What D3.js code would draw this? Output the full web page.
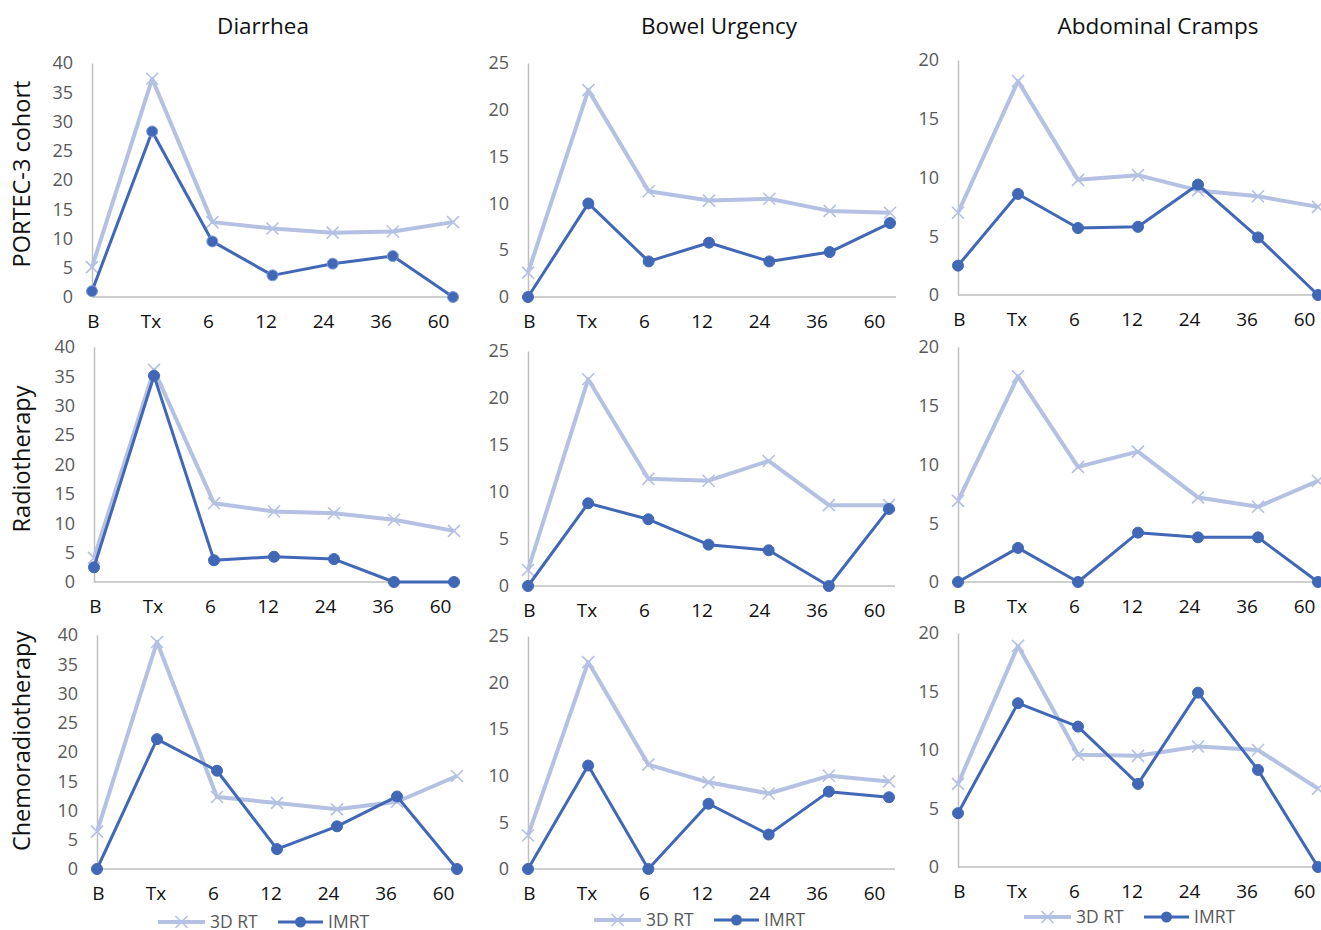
<!DOCTYPE html>
<html>
<head>
<meta charset="utf-8">
<script src="https://cdn.jsdelivr.net/npm/d3@7"></script>
<style>
  html, body { margin: 0; padding: 0; background: #fff; }
  svg { display: block; font-family: "Open Sans", "Noto Sans", sans-serif; }
</style>
</head>
<body>
<svg id="chart" width="1321" height="930"></svg>
<script>
"use strict";

// ── data ──────────────────────────────────────────────────────────────────────
const timepoints = ["B", "Tx", "6", "12", "24", "36", "60"];
const symptoms   = ["Diarrhea", "Bowel Urgency", "Abdominal Cramps"];
const cohorts    = ["PORTEC-3 cohort", "Radiotherapy", "Chemoradiotherapy"];
const yMaxBySymptom = [40, 25, 20];
const seriesNames = ["3D RT", "IMRT"];

const portecDiarrhea3d   = [5.1, 37.3, 12.8, 11.7, 11.0, 11.2, 12.8];
const portecDiarrheaImrt = [1.0, 28.3, 9.5, 3.7, 5.7, 7.0, 0];
const portecUrgency3d    = [2.6, 22.1, 11.3, 10.3, 10.5, 9.2, 9.0];
const portecUrgencyImrt  = [0, 10.0, 3.8, 5.8, 3.8, 4.8, 7.9];
const portecCramps3d     = [7.0, 18.2, 9.8, 10.2, 8.9, 8.4, 7.5];
const portecCrampsImrt   = [2.5, 8.6, 5.7, 5.8, 9.4, 4.9, 0];

const rtDiarrhea3d   = [4.1, 36.1, 13.4, 12.0, 11.7, 10.6, 8.7];
const rtDiarrheaImrt = [2.5, 35.1, 3.7, 4.3, 3.9, 0, 0];
const rtUrgency3d    = [1.7, 22.0, 11.4, 11.2, 13.3, 8.6, 8.6];
const rtUrgencyImrt  = [0, 8.8, 7.1, 4.4, 3.8, 0, 8.2];
const rtCramps3d     = [6.9, 17.5, 9.8, 11.1, 7.2, 6.4, 8.6];
const rtCrampsImrt   = [0, 2.9, 0, 4.2, 3.8, 3.8, 0];

const crtDiarrhea3d   = [6.4, 38.8, 12.3, 11.3, 10.2, 11.5, 15.9];
const crtDiarrheaImrt = [0, 22.2, 16.8, 3.4, 7.3, 12.4, 0];
const crtUrgency3d    = [3.6, 22.2, 11.2, 9.3, 8.1, 10.0, 9.4];
const crtUrgencyImrt  = [0, 11.1, 0, 7.0, 3.7, 8.3, 7.7];
const crtCramps3d     = [7.1, 18.9, 9.6, 9.5, 10.3, 10.0, 6.7];
const crtCrampsImrt   = [4.6, 14.0, 12.0, 7.1, 14.9, 8.3, 0];

const panelSeries = [
  [[portecDiarrhea3d, portecDiarrheaImrt], [portecUrgency3d, portecUrgencyImrt], [portecCramps3d, portecCrampsImrt]],
  [[rtDiarrhea3d, rtDiarrheaImrt],         [rtUrgency3d, rtUrgencyImrt],         [rtCramps3d, rtCrampsImrt]],
  [[crtDiarrhea3d, crtDiarrheaImrt],       [crtUrgency3d, crtUrgencyImrt],       [crtCramps3d, crtCrampsImrt]],
];

// ── layout (plot rectangles per row/col: axis x, last point x, top y, zero y) ─
const panelBoxes = [
  [{ x0: 92, x1: 453, top: 63, y0: 297 }, { x0: 528, x1: 890, top: 63, y0: 297 }, { x0: 958, x1: 1318, top: 60, y0: 295 }],
  [{ x0: 94, x1: 454, top: 347, y0: 582 }, { x0: 528, x1: 889, top: 351, y0: 586 }, { x0: 958, x1: 1318, top: 347, y0: 582 }],
  [{ x0: 97, x1: 457, top: 635, y0: 869 }, { x0: 528, x1: 889, top: 636, y0: 869 }, { x0: 958, x1: 1318, top: 633, y0: 867 }],
];
const titleX   = [263, 719, 1158];
const rowLabelY = [174, 459, 741];
const legendPos = [{ x: 158, y: 922 }, { x: 594, y: 920 }, { x: 1024, y: 917 }];

const COLOR_3D   = "#b4c1e3";
const COLOR_IMRT = "#4168b6";
const AXIS_COLOR = "#bfbfbf";
const FONT = "\"Open Sans\", \"Noto Sans\", sans-serif";

const svg = d3.select("#chart");

// column titles
svg.selectAll("text.title").data(symptoms).enter().append("text")
  .attr("class", "title")
  .attr("x", (d, i) => titleX[i]).attr("y", 34)
  .attr("text-anchor", "middle")
  .attr("font-size", 22.5).attr("fill", "#111")
  .text(d => d);

// row labels
svg.selectAll("text.rowlab").data(cohorts).enter().append("text")
  .attr("class", "rowlab")
  .attr("transform", (d, i) => `translate(22,${rowLabelY[i]}) rotate(-90)`)
  .attr("text-anchor", "middle").attr("dy", "0.35em")
  .attr("font-size", 23.5).attr("fill", "#111")
  .text(d => d);

function xMarkPath(cx, cy, s) {
  return `M${cx - s},${cy - s}L${cx + s},${cy + s}M${cx - s},${cy + s}L${cx + s},${cy - s}`;
}

// ── panels ────────────────────────────────────────────────────────────────────
panelSeries.forEach((row, r) => {
  row.forEach(([s3d, sImrt], c) => {
    const box = panelBoxes[r][c];
    const yMax = yMaxBySymptom[c];
    const g = svg.append("g");

    const x = d3.scalePoint().domain(timepoints).range([box.x0, box.x1]);
    const xLab = d3.scalePoint().domain(timepoints).range([box.x0 + 1, box.x0 + 346]);
    const y = d3.scaleLinear().domain([0, yMax]).range([box.y0, box.top]);

    // y axis
    g.append("g").attr("transform", `translate(${box.x0},0)`)
      .call(d3.axisLeft(y).tickValues(d3.range(0, yMax + 1, 5)).tickSize(0).tickPadding(19))
      .call(ax => {
        ax.select(".domain").attr("stroke", AXIS_COLOR).attr("stroke-width", 1.5);
        ax.selectAll("text").attr("fill", "#595959").attr("font-size", 18)
          .attr("font-family", FONT);
      });

    // baseline
    g.append("line")
      .attr("x1", box.x0).attr("x2", Math.min(box.x1 + 6, 1321))
      .attr("y1", y(0)).attr("y2", y(0))
      .attr("stroke", AXIS_COLOR).attr("stroke-width", 1.5);

    // x labels
    g.append("g").attr("transform", `translate(0,${box.y0})`)
      .call(d3.axisBottom(xLab).tickSize(0).tickPadding(18))
      .call(ax => {
        ax.select(".domain").remove();
        ax.selectAll("text").attr("fill", "#111").attr("font-size", 19)
          .attr("font-family", FONT);
      });

    const line = d3.line().x((d, i) => x(timepoints[i])).y(d => y(d));

    // 3D RT
    g.append("path").datum(s3d)
      .attr("fill", "none").attr("stroke", COLOR_3D)
      .attr("stroke-width", 4).attr("stroke-linejoin", "round")
      .attr("d", line);
    g.selectAll("path.xm").data(s3d).enter().append("path")
      .attr("class", "xm")
      .attr("d", (d, i) => xMarkPath(x(timepoints[i]), y(d), 6))
      .attr("stroke", COLOR_3D).attr("stroke-width", 1.6).attr("fill", "none");

    // IMRT
    g.append("path").datum(sImrt)
      .attr("fill", "none").attr("stroke", COLOR_IMRT)
      .attr("stroke-width", 3).attr("stroke-linejoin", "round")
      .attr("d", line);
    g.selectAll("circle").data(sImrt).enter().append("circle")
      .attr("cx", (d, i) => x(timepoints[i]))
      .attr("cy", d => y(d))
      .attr("r", 5.5)
      .attr("fill", COLOR_IMRT)
      .attr("stroke", r === 0 && c === 0 ? "#7f9ad8" : COLOR_IMRT)
      .attr("stroke-width", 1);
  });
});

// ── legends ───────────────────────────────────────────────────────────────────
legendPos.forEach(p => {
  const g = svg.append("g").attr("transform", `translate(${p.x},${p.y})`);
  // 3D RT
  g.append("line").attr("x1", 0).attr("x2", 47).attr("y1", 0).attr("y2", 0)
    .attr("stroke", COLOR_3D).attr("stroke-width", 4);
  g.append("path").attr("d", xMarkPath(23.5, 0, 6))
    .attr("stroke", COLOR_3D).attr("stroke-width", 1.6);
  g.append("text").attr("x", 52).attr("y", 0).attr("dy", "0.35em")
    .attr("font-size", 17.5).attr("fill", "#595959").text(seriesNames[0]);
  // IMRT
  g.append("line").attr("x1", 120).attr("x2", 165).attr("y1", 0).attr("y2", 0)
    .attr("stroke", COLOR_IMRT).attr("stroke-width", 3);
  g.append("circle").attr("cx", 142.5).attr("cy", 0).attr("r", 5.5).attr("fill", COLOR_IMRT);
  g.append("text").attr("x", 170).attr("y", 0).attr("dy", "0.35em")
    .attr("font-size", 17.5).attr("fill", "#595959").text(seriesNames[1]);
});
</script>
</body>
</html>
